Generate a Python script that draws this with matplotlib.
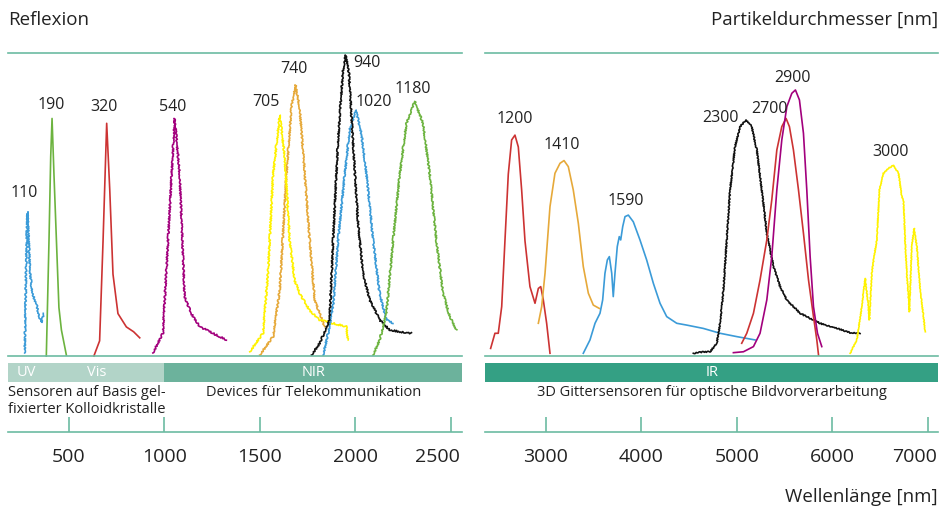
import matplotlib
matplotlib.use("Agg")
import matplotlib.pyplot as plt
from matplotlib.transforms import ScaledTranslation

plt.rcParams["font.family"] = ["Open Sans", "DejaVu Sans"]

TEAL = "#6cbba2"
BAND_LIGHT = "#b2d4c8"
BAND_MID = "#6cb29c"
BAND_DARK = "#34a084"
TXT = "#222222"

# --- left panel: reflection peaks (wavelength nm, reflection %) ---
wl_110 = [270, 278, 284, 291, 298, 305, 314, 322, 331, 340, 348, 357, 364, 371]
r_110 = [1, 32, 47.6, 38, 28, 23, 20, 18.5, 17.5, 14.5, 12.5, 11, 12.5, 14]

wl_190 = [383, 397, 406, 413, 423, 436, 449, 462, 488]
r_190 = [0, 38, 65.8, 78.4, 60, 38, 16, 8.6, 0.3]

wl_320 = [632, 662, 680, 699, 715, 732, 758, 802, 840, 872]
r_320 = [0, 5, 38, 76.8, 55, 27, 14, 9.6, 8, 6]

wl_540 = [941, 993, 1020, 1055, 1081, 1107, 1142, 1186, 1255, 1326]
r_540 = [1, 7.5, 38, 78.4, 60, 19.6, 14, 9.7, 7.5, 5.3]

wl_705 = [1448, 1517, 1543, 1570, 1605, 1631, 1657, 1683, 1709, 1762, 1814, 1884, 1954, 1962]
r_705 = [1.4, 7.5, 27, 60, 79.5, 65.8, 38, 25, 20.7, 15, 11.9, 10.8, 9.7, 5.3]

wl_740 = [1500, 1570, 1605, 1640, 1666, 1688, 1709, 1736, 1762, 1788, 1814, 1840]
r_740 = [0.3, 6.4, 21.8, 60, 82, 89.4, 82, 60, 38, 18.5, 14, 9.7]

wl_940 = [1771, 1814, 1866, 1884, 1910, 1936, 1950, 1967, 1988, 2015, 2041, 2076, 2128, 2180, 2233, 2294]
r_940 = [0.3, 4.2, 11.9, 38, 71, 94.4, 99.3, 93.3, 71, 43.8, 27.3, 18.5, 11.9, 8.6, 8, 7.5]

wl_1020 = [1832, 1858, 1884, 1910, 1945, 1971, 2003, 2032, 2059, 2094, 2128, 2163, 2198]
r_1020 = [0.3, 7.5, 16.3, 38, 60, 74.6, 81.2, 73.5, 60, 38, 20.7, 11.9, 10.8]

wl_1180 = [2093, 2128, 2163, 2198, 2233, 2268, 2312, 2355, 2390, 2425, 2460, 2495, 2530]
r_1180 = [0.3, 5.3, 14, 38, 60, 76.8, 84, 76.8, 60, 38, 20.7, 13, 8.6]

# --- right panel ---
wl_1200 = [2420, 2465, 2500, 2536, 2570, 2605, 2640, 2675, 2710, 2745, 2780, 2832, 2885,
           2920, 2945, 2972, 3007, 3042]
r_1200 = [2.5, 7.5, 7.5, 16.3, 38, 60, 71.3, 72.9, 69, 54.8, 38, 22.9, 17.4,
          22.3, 22.9, 18.5, 10.8, 0.9]

wl_1410 = [2920, 2955, 2990, 3042, 3094, 3147, 3189, 3234, 3286, 3339, 3391, 3444, 3496, 3559]
r_1410 = [10.8, 16.3, 27.3, 49.3, 60.3, 63.6, 64.5, 62.5, 54.8, 43.8, 29.5, 20.7, 16.8, 15.7]

wl_1590 = [3391, 3461, 3514, 3566, 3594, 3618, 3643, 3664, 3689, 3705, 3723, 3747, 3768,
           3783, 3804, 3828, 3863, 3915, 3985, 4055, 4125, 4195, 4265, 4370, 4475, 4649,
           4824, 4999, 5191]
r_1590 = [0.9, 5.3, 10.8, 14.1, 18.5, 27.3, 31.7, 32.8, 27.3, 19.6, 27.3, 36.1, 39.4,
          38.3, 42.7, 46, 46.5, 44.3, 38.3, 31.7, 24, 17.4, 13, 10.8, 10.2, 9.1,
          7.5, 6.4, 5.3]

wl_2300 = [4544, 4649, 4719, 4789, 4824, 4859, 4894, 4929, 4981, 5034, 5097, 5156, 5209,
           5261, 5314, 5384, 5453, 5523, 5593, 5663, 5768, 5872, 5977, 6082, 6187, 6291]
r_2300 = [0.9, 1.4, 1.4, 4.2, 10.8, 21.8, 38.3, 54.8, 69.1, 75.7, 77.9, 75.7, 68,
          54.8, 40.5, 29.5, 22.9, 18.5, 16.3, 14.1, 12.4, 10.8, 9.7, 8.8, 7.7, 7.5]

wl_2700 = [5051, 5104, 5174, 5243, 5314, 5366, 5419, 5471, 5516, 5551, 5593, 5646, 5698,
           5751, 5803, 5838, 5856]
r_2700 = [4.2, 7.5, 14.1, 25.1, 38.3, 51.5, 68, 75.7, 78.4, 75.7, 68, 54.8, 40.5,
          25.1, 13, 5.3, 0.3]

wl_2900 = [4964, 5069, 5174, 5243, 5314, 5366, 5419, 5471, 5524, 5576, 5614, 5656, 5698,
           5733, 5768, 5803, 5845, 5890]
r_2900 = [1.1, 1.4, 3.1, 7.5, 18.5, 32.8, 54.8, 71.3, 82.3, 86.7, 87.8, 84.5, 73.5,
          54.8, 32.8, 16.3, 7.5, 3.1]

wl_3000 = [6187, 6257, 6309, 6344, 6372, 6389, 6414, 6438, 6467, 6494, 6536, 6589, 6641,
           6694, 6729, 6746, 6763, 6781, 6808, 6833, 6858, 6886, 6921, 6956, 6973]
r_3000 = [0.9, 5.3, 16.3, 25.6, 18.5, 11.9, 27.3, 32.8, 38.3, 54.8, 60.3, 61.9, 63,
          60.3, 52.6, 51.5, 38.3, 27.3, 14.6, 36.1, 42.1, 36.1, 21.8, 13, 8]

# peak labels: particle diameter, label position (nm, %)
left_labels = ["110", "190", "320", "540", "705", "740", "940", "1020", "1180"]
left_label_x = [270, 409, 685, 1046, 1531, 1678, 2059, 2098, 2302]
left_label_y = [53.9, 83, 82.3, 82.3, 83.9, 94.6, 96.7, 83.9, 88]

right_labels = ["1200", "1410", "1590", "2300", "2700", "2900", "3000"]
right_label_x = [2675, 3165, 3839, 4831, 5341, 5582, 6613]
right_label_y = [78.2, 69.6, 51.2, 78.4, 81.5, 91.9, 67.4]

left_ticks = [500, 1000, 1500, 2000, 2500]
right_ticks = [3000, 4000, 5000, 6000, 7000]

BLUE = "#3b9bd8"
GREEN = "#6cb33f"
RED = "#cc3333"
MAGENTA = "#a2007d"
YELLOW = "#fff200"
ORANGE = "#e6a93a"
BLACK = "#111111"

NOISY = (0.8, 2.0, 3)

left_curves = [
    (wl_110, r_110, BLUE, NOISY),
    (wl_190, r_190, GREEN, None),
    (wl_320, r_320, RED, None),
    (wl_540, r_540, MAGENTA, NOISY),
    (wl_740, r_740, ORANGE, NOISY),
    (wl_705, r_705, YELLOW, NOISY),
    (wl_1020, r_1020, BLUE, NOISY),
    (wl_940, r_940, BLACK, NOISY),
    (wl_1180, r_1180, GREEN, NOISY),
]
right_curves = [
    (wl_1200, r_1200, RED, None),
    (wl_1410, r_1410, ORANGE, None),
    (wl_1590, r_1590, BLUE, None),
    (wl_2300, r_2300, BLACK, (0.6, 3, 2)),
    (wl_2700, r_2700, RED, None),
    (wl_2900, r_2900, MAGENTA, None),
    (wl_3000, r_3000, YELLOW, (0.4, 3, 2)),
]

fig = plt.figure(figsize=(9.4, 5.11), dpi=100)
W, H = 940, 511


def px_axes(x0, x1, ytop, ybot):
    return fig.add_axes([x0 / W, 1 - ybot / H, (x1 - x0) / W, (ybot - ytop) / H])


def setup_main(ax, xlim):
    ax.set_xlim(*xlim)
    ax.set_ylim(0, 100)
    for s in ("left", "right"):
        ax.spines[s].set_visible(False)
    for s in ("top", "bottom"):
        ax.spines[s].set_color(TEAL)
        ax.spines[s].set_linewidth(1.2)
    ax.set_xticks([])
    ax.set_yticks([])
    ax.patch.set_alpha(0)


def setup_scale(ax, xlim, ticks):
    ax.set_xlim(*xlim)
    ax.set_ylim(0, 1)
    for s in ("left", "right", "top"):
        ax.spines[s].set_visible(False)
    ax.spines["bottom"].set_color(TEAL)
    ax.spines["bottom"].set_linewidth(1.2)
    ax.set_yticks([])
    ax.set_xticks(ticks)
    ax.tick_params(axis="x", direction="in", length=10.8, width=1.2, color=TEAL,
                   pad=12, labelsize=14, labelcolor=TXT)
    ax.patch.set_alpha(0)
    # last label is pulled left so it stays inside the panel
    last = ax.get_xticklabels()[-1]
    last.set_transform(last.get_transform()
                       + ScaledTranslation(-13 / 100, 0, fig.dpi_scale_trans))


left_lim = (184, 2559)
right_lim = (2361, 7111)

ax_l = px_axes(8.3, 462, 53, 356)
ax_r = px_axes(485, 938.3, 53, 356)
sc_l = px_axes(8.3, 462, 363, 431.7)
sc_r = px_axes(485, 938.3, 363, 431.7)

setup_main(ax_l, left_lim)
setup_main(ax_r, right_lim)
setup_scale(sc_l, left_lim, left_ticks)
setup_scale(sc_r, right_lim, right_ticks)

for ax, curves in ((ax_l, left_curves), (ax_r, right_curves)):
    for wl, r, color, sketch in curves:
        line, = ax.plot(wl, r, color=color, lw=1.2, clip_on=False)
        if sketch:
            line.set_sketch_params(*sketch)

for lab, x, y in zip(left_labels, left_label_x, left_label_y):
    ax_l.text(x, y, lab, ha="center", va="center", fontsize=11.5, color=TXT)
for lab, x, y in zip(right_labels, right_label_x, right_label_y):
    ax_r.text(x, y, lab, ha="center", va="center", fontsize=11.5, color=TXT)

# spectral bands
band_lo = (431.7 - 382) / 68.7
sc_l.axvspan(left_lim[0], 1000, ymin=band_lo, ymax=1, color=BAND_LIGHT, lw=0)
sc_l.axvspan(1000, left_lim[1], ymin=band_lo, ymax=1, color=BAND_MID, lw=0)
sc_r.axvspan(right_lim[0], right_lim[1], ymin=band_lo, ymax=1, color=BAND_DARK, lw=0)

yb = (band_lo + 1) / 2
sc_l.text(280, yb, "UV", ha="center", va="center", color="white", fontsize=10.5)
sc_l.text(647, yb, "Vis", ha="center", va="center", color="white", fontsize=10.5)
sc_l.text(1780, yb, "NIR", ha="center", va="center", color="white", fontsize=10.5)
sc_r.text(4736, yb, "IR", ha="center", va="center", color="white", fontsize=10.5)

sc_l.text(left_lim[0], band_lo - 0.05, "Sensoren auf Basis gel-\nfixierter Kolloidkristalle",
          ha="left", va="top", fontsize=10.5, color=TXT, linespacing=1.1)
sc_l.text(1780, band_lo - 0.05, "Devices für Telekommunikation",
          ha="center", va="top", fontsize=10.5, color=TXT)
sc_r.text(4736, band_lo - 0.05, "3D Gittersensoren für optische Bildvorverarbeitung",
          ha="center", va="top", fontsize=10.5, color=TXT)

fig.text(8 / W, 1 - 20 / H, "Reflexion", ha="left", va="center", fontsize=13.5, color=TXT)
fig.text(938 / W, 1 - 20 / H, "Partikeldurchmesser [nm]", ha="right", va="center",
         fontsize=13.5, color=TXT)
fig.text(938 / W, 1 - 497 / H, "Wellenlänge [nm]", ha="right", va="center",
         fontsize=13.5, color=TXT)

fig.savefig("out.png", dpi=100)
